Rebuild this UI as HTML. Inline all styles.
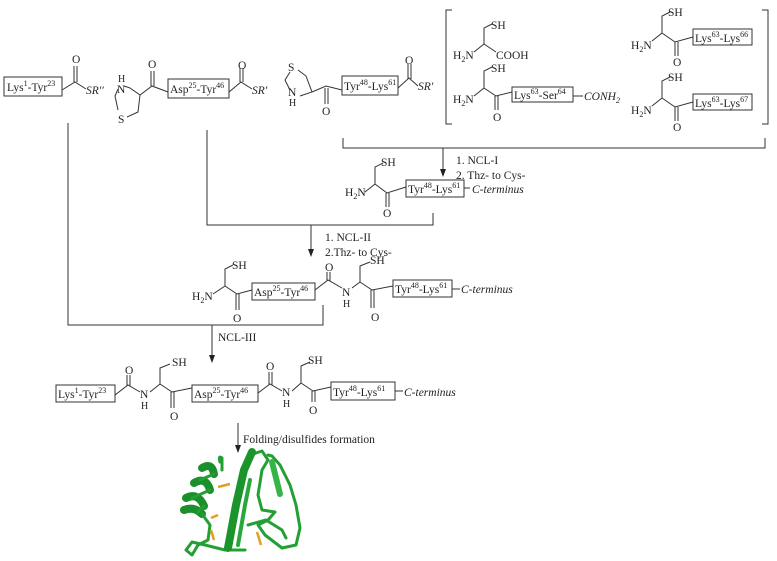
<!DOCTYPE html>
<html><head><meta charset="utf-8"><style>
html,body{margin:0;padding:0;background:#fff}
svg{display:block}
text{font-family:"Liberation Serif",serif;font-size:11.5px;fill:#222}
.it{font-style:italic}
.sm{font-size:8px}
</style></head><body>
<svg width="777" height="561" viewBox="0 0 777 561" xmlns="http://www.w3.org/2000/svg">
<g stroke="#333" stroke-width="1" fill="none">
<rect x="4" y="77" width="58" height="19"/>
<path d="M62,90 L75,82 L86,89 M74,82 L74,66 M77,82 L77,66"/>
<path d="M130,88 L124,86 M130,88 L140,95 L152,86 L168,92 M151,86 L151,71 M154,86 L154,71 M140,95 L138,112 L127,117 M118,110 L115,96 L118,89"/>
<rect x="168" y="79" width="61" height="19"/>
<path d="M229,92 L241,82 L252,89 M240,82 L240,68 M243,82 L243,68"/>
<path d="M298,70 L306,76 L312,92 L300,96 M290,72 L285,80 L290,90 M312,92 L326,86 L342,90 M325,88 L325,104 M328,88 L328,104"/>
<rect x="342" y="76" width="56" height="19"/>
<path d="M398,88 L409,78 L418,86 M408,79 L408,64 M411,79 L411,64"/>
<path d="M452,10 L446,10 L446,124 L452,124 M762,10 L768,10 L768,124 L762,124"/>
<path d="M492,24 L484,28 L484,44 L474,52 M484,44 L496,52"/>
<path d="M492,67 L484,71 L484,88 L474,96 M484,88 L496,96 L512,92 M495,96 L495,110 M498,96 L498,110"/>
<rect x="512" y="87" width="61" height="15"/>
<path d="M573,96 L583,96"/>
<path d="M670,12 L662,16 L662,33 L652,41 M662,33 L675,42 L693,37 M675,42 L675,56 M678,42 L678,56"/>
<rect x="693" y="29" width="59" height="16"/>
<path d="M670,77 L662,81 L662,98 L652,106 M662,98 L675,107 L693,102 M675,107 L675,121 M678,107 L678,121"/>
<rect x="693" y="94" width="59" height="16"/>
<path d="M343,138 L343,148 L765,148 L765,138"/>
<path d="M443,148 L443,170"/>
<path d="M207,130 L207,225 L433,225 L433,213"/>
<path d="M311,225 L311,250"/>
<path d="M68,123 L68,325 L323,325 L323,305"/>
<path d="M212,325 L212,356"/>
<path d="M238,423 L238,446"/>
<path d="M383,163 L375,167 L375,184 L365,192 M375,184 L387,193 L406,187 M386,193 L386,207 M389,193 L389,207"/>
<rect x="406" y="180" width="58" height="17"/>
<path d="M464,188 L470,188"/>
<path d="M233,265 L225,269 L225,286 L213,294 M225,286 L237,294 L252,290 M236,294 L236,310 M239,294 L239,310"/>
<rect x="252" y="283" width="63" height="17"/>
<path d="M315,290 L328,280 L342,288 M327,281 L327,272 M330,281 L330,272 M352,288 L360,282 L360,266 L370,262 M360,282 L372,290 L393,286 M371,290 L371,308 M374,290 L374,308"/>
<rect x="393" y="280" width="59" height="17"/>
<path d="M452,289 L460,289"/>
<rect x="56" y="385" width="59" height="17"/>
<path d="M115,395 L128,385 L140,392 M127,386 L127,375 M130,386 L130,375 M150,392 L160,384 L160,368 L170,364 M160,384 L172,392 L192,388 M171,392 L171,408 M174,392 L174,408"/>
<rect x="192" y="385" width="66" height="17"/>
<path d="M258,393 L270,384 L282,391 M269,385 L269,372 M272,385 L272,372 M292,391 L301,383 L301,366 L310,362 M301,383 L313,391 L331,387 M312,391 L312,402 M315,391 L315,402"/>
<rect x="331" y="382" width="64" height="18"/>
<path d="M395,391 L403,391"/>
</g>
<g fill="#222">
<polygon points="440,169 446,169 443,177"/>
<polygon points="308,249 314,249 311,257"/>
<polygon points="209,355 215,355 212,363"/>
<polygon points="235,445 241,445 238,453"/>
</g>
<text x="7" y="91">Lys<tspan class="sm" dy="-5">1</tspan><tspan dy="5">-Tyr</tspan><tspan class="sm" dy="-5">23</tspan></text>
<text x="72" y="63">O</text>
<text x="86" y="94" class="it">SR′′</text>
<text x="118" y="82" style="font-size:10px">H</text>
<text x="117" y="93">N</text>
<text x="118" y="123">S</text>
<text x="148" y="68">O</text>
<text x="170" y="93">Asp<tspan class="sm" dy="-5">25</tspan><tspan dy="5">-Tyr</tspan><tspan class="sm" dy="-5">46</tspan></text>
<text x="238" y="69">O</text>
<text x="252" y="94" class="it">SR′</text>
<text x="288" y="71">S</text>
<text x="288" y="96">N</text>
<text x="289" y="106" style="font-size:10px">H</text>
<text x="322" y="115">O</text>
<text x="344" y="90">Tyr<tspan class="sm" dy="-5">48</tspan><tspan dy="5">-Lys</tspan><tspan class="sm" dy="-5">61</tspan></text>
<text x="405" y="64">O</text>
<text x="418" y="90" class="it">SR′</text>
<text x="491" y="29">SH</text>
<text x="453" y="59">H<tspan class="sm" dy="3">2</tspan><tspan dy="-3">N</tspan></text>
<text x="496" y="59">COOH</text>
<text x="491" y="72">SH</text>
<text x="453" y="103">H<tspan class="sm" dy="3">2</tspan><tspan dy="-3">N</tspan></text>
<text x="493" y="121">O</text>
<text x="514" y="99">Lys<tspan class="sm" dy="-5">63</tspan><tspan dy="5">-Ser</tspan><tspan class="sm" dy="-5">64</tspan></text>
<text x="584" y="100" class="it">CONH<tspan class="sm" dy="3">2</tspan></text>
<text x="668" y="16">SH</text>
<text x="631" y="49">H<tspan class="sm" dy="3">2</tspan><tspan dy="-3">N</tspan></text>
<text x="673" y="66">O</text>
<text x="695" y="42">Lys<tspan class="sm" dy="-5">63</tspan><tspan dy="5">-Lys</tspan><tspan class="sm" dy="-5">66</tspan></text>
<text x="668" y="81">SH</text>
<text x="631" y="114">H<tspan class="sm" dy="3">2</tspan><tspan dy="-3">N</tspan></text>
<text x="673" y="131">O</text>
<text x="695" y="107">Lys<tspan class="sm" dy="-5">63</tspan><tspan dy="5">-Lys</tspan><tspan class="sm" dy="-5">67</tspan></text>
<text x="456" y="164">1. NCL-I</text>
<text x="456" y="179">2. Thz- to Cys-</text>
<text x="381" y="166">SH</text>
<text x="345" y="196">H<tspan class="sm" dy="3">2</tspan><tspan dy="-3">N</tspan></text>
<text x="383" y="217">O</text>
<text x="408" y="193">Tyr<tspan class="sm" dy="-5">48</tspan><tspan dy="5">-Lys</tspan><tspan class="sm" dy="-5">61</tspan></text>
<text x="472" y="193" class="it">C-terminus</text>
<text x="325" y="241">1. NCL-II</text>
<text x="325" y="256">2.Thz- to Cys-</text>
<text x="232" y="269">SH</text>
<text x="192" y="300">H<tspan class="sm" dy="3">2</tspan><tspan dy="-3">N</tspan></text>
<text x="233" y="322">O</text>
<text x="254" y="296">Asp<tspan class="sm" dy="-5">25</tspan><tspan dy="5">-Tyr</tspan><tspan class="sm" dy="-5">46</tspan></text>
<text x="325" y="271">O</text>
<text x="342" y="296">N</text>
<text x="343" y="307" style="font-size:10px">H</text>
<text x="370" y="264">SH</text>
<text x="371" y="321">O</text>
<text x="395" y="293">Tyr<tspan class="sm" dy="-5">48</tspan><tspan dy="5">-Lys</tspan><tspan class="sm" dy="-5">61</tspan></text>
<text x="461" y="293" class="it">C-terminus</text>
<text x="218" y="341">NCL-III</text>
<text x="58" y="398">Lys<tspan class="sm" dy="-5">1</tspan><tspan dy="5">-Tyr</tspan><tspan class="sm" dy="-5">23</tspan></text>
<text x="125" y="374">O</text>
<text x="140" y="398">N</text>
<text x="141" y="409" style="font-size:10px">H</text>
<text x="172" y="366">SH</text>
<text x="170" y="420">O</text>
<text x="194" y="398">Asp<tspan class="sm" dy="-5">25</tspan><tspan dy="5">-Tyr</tspan><tspan class="sm" dy="-5">46</tspan></text>
<text x="266" y="370">O</text>
<text x="282" y="396">N</text>
<text x="283" y="407" style="font-size:10px">H</text>
<text x="308" y="364">SH</text>
<text x="309" y="414">O</text>
<text x="333" y="396">Tyr<tspan class="sm" dy="-5">48</tspan><tspan dy="5">-Lys</tspan><tspan class="sm" dy="-5">61</tspan></text>
<text x="404" y="396" class="it">C-terminus</text>
<text x="243" y="443">Folding/disulfides formation</text>
<!-- protein -->
<g fill="none" stroke-linecap="round" stroke-linejoin="round">
<g stroke="#1b8f2b" stroke-width="8">
<path d="M202,468 Q212,462 214,474"/>
<path d="M194,483 Q206,476 210,490"/>
<path d="M186,498 Q198,492 204,506"/>
<path d="M184,510 Q194,506 202,514"/>
</g>
<g stroke="#22a033" stroke-width="3">
<path d="M214,474 L200,480 M210,490 L192,498 M204,506 L198,512"/>
<path d="M202,514 L210,525 L208,540 L198,545 L192,555 L186,550 L192,542 L205,545 L225,550 L245,550"/>
<path d="M220,462 Q218,455 222,458 L222,470"/>
<path d="M250,455 L262,451 L268,460 L262,470 L258,495 L262,510 L275,512 L268,520 L258,525 L265,535 L282,548 L296,545 L300,528 L296,505 L290,485 L280,465 L272,456 L268,455"/>
<path d="M248,525 L266,520 L282,530 L286,538"/>
</g>
<path d="M228,548 L236,505 L244,470 L252,452" stroke="#1a942b" stroke-width="8"/>
<path d="M238,545 L245,505 L250,480" stroke="#28a83a" stroke-width="4"/>
<path d="M272,462 L276,478 L280,494" stroke="#37b448" stroke-width="6"/>
</g>
<g stroke="#e0a020" stroke-width="2.5" fill="none">
<path d="M218,487 L230,484"/><path d="M211,518 L218,515"/><path d="M211,530 L214,540"/><path d="M257,532 L261,545"/>
</g>
</svg>
</body></html>
